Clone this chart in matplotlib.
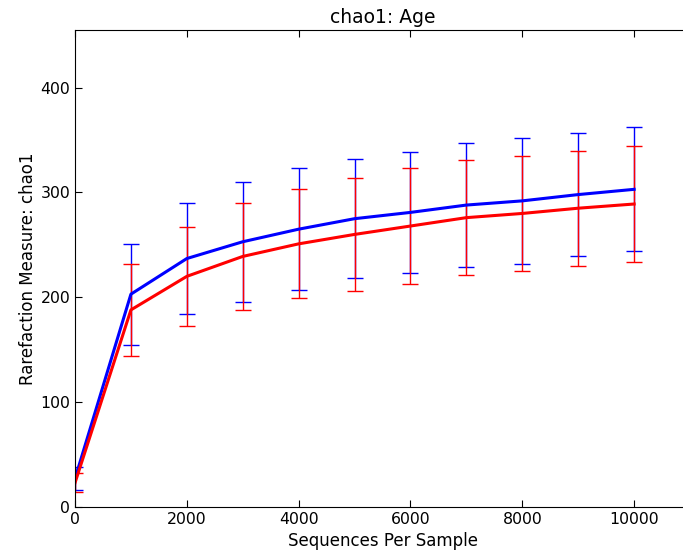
import numpy as np
import matplotlib
matplotlib.use('Agg')
import matplotlib.pyplot as plt

seqs = [0, 1000, 2000, 3000, 4000, 5000, 6000, 7000, 8000, 9000, 10000]

# group 1 (blue)
blue_mean = [27, 203, 237, 253, 265, 275, 281, 288, 292, 298, 303]
blue_err = [11, 48, 53, 57, 58, 57, 58, 59, 60, 59, 59]

# group 2 (red)
red_mean = [23, 188, 220, 239, 251, 260, 268, 276, 280, 285, 289]
red_err = [9, 44, 47, 51, 52, 54, 55, 55, 55, 55, 55]

plt.rcParams['font.family'] = 'DejaVu Sans'
plt.rcParams['xtick.direction'] = 'in'
plt.rcParams['ytick.direction'] = 'in'
plt.rcParams['xtick.top'] = True
plt.rcParams['ytick.right'] = True
plt.rcParams['xtick.major.size'] = 5
plt.rcParams['ytick.major.size'] = 5

fig = plt.figure(figsize=(6.83, 5.56), dpi=100)
ax = fig.add_axes([0.1098, 0.0881, 0.9005, 0.858])

ax.errorbar(seqs, blue_mean, yerr=blue_err, color='blue', ecolor='blue',
            linewidth=2.2, elinewidth=1, capsize=6, capthick=1)
ax.errorbar(seqs, red_mean, yerr=red_err, color='red', ecolor='red',
            linewidth=2.2, elinewidth=1, capsize=6, capthick=1)

ax.set_xlim(0, 11000)
ax.set_ylim(0, 455)
ax.set_xticks([0, 2000, 4000, 6000, 8000, 10000])
ax.set_yticks([0, 100, 200, 300, 400])
ax.tick_params(labelsize=11.3)

ax.set_title('chao1: Age', fontsize=13.5, pad=5)
ax.set_xlabel('Sequences Per Sample', fontsize=12)
ax.set_ylabel('Rarefaction Measure: chao1', fontsize=12, labelpad=2)

fig.savefig('out.png', dpi=100)
